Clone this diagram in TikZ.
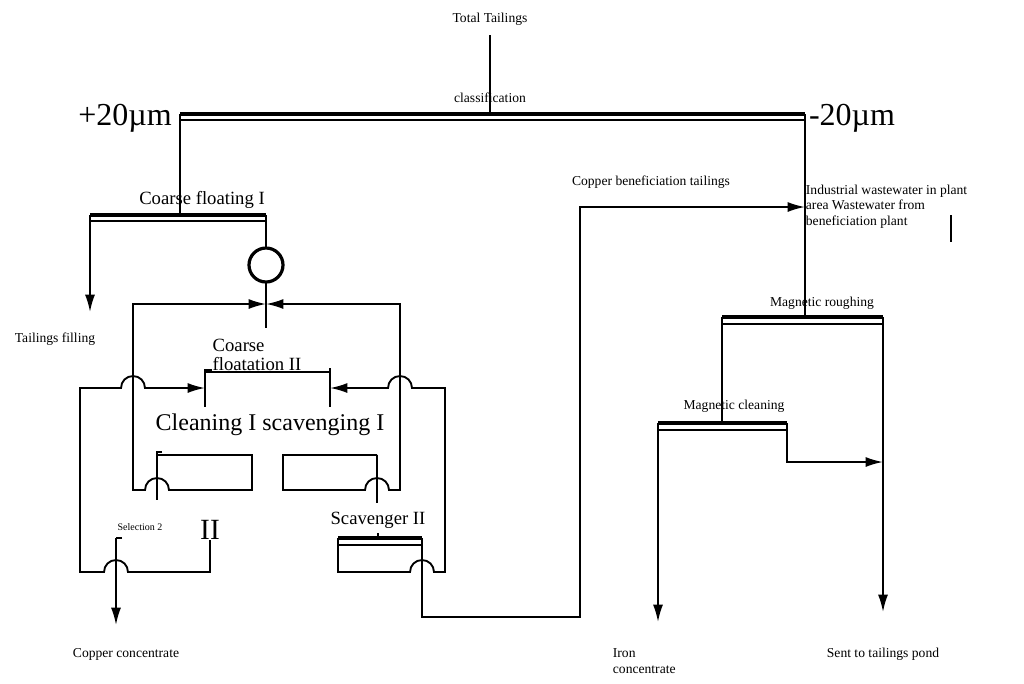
\documentclass[tikz,border=0pt]{standalone}
\usepackage{fontspec}
\setmainfont{Liberation Serif}
\usetikzlibrary{arrows.meta}
\begin{document}
\begin{tikzpicture}[x=0.75pt,y=0.75pt,line width=1.4pt,
  arr/.style={-{Latex[length=13pt,width=7.5pt]}},
  thk/.style={line width=2.6pt},
  sml/.style={font=\fontsize{10.2}{11.5}\selectfont,inner sep=0pt},
  med/.style={font=\fontsize{14}{14.5}\selectfont,inner sep=0pt},
  big/.style={font=\fontsize{24}{25}\selectfont,inner sep=0pt}]
\useasboundingbox (0,0) rectangle (1024,-683);
% texts
\node[sml] (tt) at (490,-19) {Total Tailings};
\node[sml] (cls) at (490,-98) {classification};
\node[big] (p20) at (125,-118) {+20µm};
\node[big] (m20) at (852,-118) {-20µm};
\node[med] (cf1) at (202,-200) {Coarse floating I};
\node[sml] (tf) at (55,-339) {Tailings filling};
\node[med,align=left] (cf2) at (257,-355) {Coarse\\floatation II};
\node[font=\fontsize{18}{19}\selectfont,inner sep=0pt] (clsc) at (270,-425) {Cleaning I scavenging I};
\node[font=\fontsize{7.5}{8}\selectfont,inner sep=0pt] (sel) at (140,-527) {Selection 2};
\node[font=\fontsize{22}{23}\selectfont,inner sep=0pt] (ii) at (210,-530) {II};
\node[med] (sc2) at (378,-520) {Scavenger II};
\node[sml] (cc) at (126,-654) {Copper concentrate};
\node[sml] (cbt) at (651,-182) {Copper beneficiation tailings};
\node[sml,align=left,anchor=north west] (iw) at (805,-184) {Industrial wastewater in plant\\area Wastewater from\\beneficiation plant};
\node[sml] (mr) at (822,-303) {Magnetic roughing};
\node[sml] (mc) at (734,-406) {Magnetic cleaning};
\node[sml,align=left,anchor=north west] (ic) at (612,-648) {Iron\\concentrate};
\node[sml] (stp) at (883,-654) {Sent to tailings pond};
\draw[line width=1.5pt] (951,-215) -- (951,-242);
% classification
\draw (490,-35) -- (490,-114);
\draw[thk] (180,-114) -- (805,-114);
\draw (180,-120) -- (805,-120);
\draw (180,-114) -- (180,-215);
\draw (805,-114) -- (805,-317);
% coarse floating I
\draw[thk] (90,-215) -- (266,-215);
\draw (90,-221) -- (266,-221);
\draw[arr] (90,-215) -- (90,-312);
\draw (266,-215) -- (266,-248);
\draw[line width=2.4pt] (266,-265) circle[radius=17];
\draw (266,-282) -- (266,-328);
% coarse floatation II
\draw (212,-370) -- (205,-370) -- (205,-407);
\draw (205,-372) -- (330,-372);
\draw (330,-368) -- (330,-407);
% cleaning I box
\draw[arr] (157,-455) -- (252,-455) -- (252,-490) -- (169,-490) arc(0:180:12) -- (133,-490) -- (133,-304) -- (266,-304);
\draw (162,-452) -- (157,-452) -- (157,-500);
% scavenging I box
\draw[arr] (377,-455) -- (283,-455) -- (283,-490) -- (365,-490) arc(180:0:12) -- (400,-490) -- (400,-304) -- (266,-304);
\draw (377,-455) -- (377,-503);
% selection 2
\draw[arr] (210,-540) -- (210,-572) -- (128,-572) arc(0:180:12) -- (80,-572) -- (80,-388) -- (121,-388) arc(180:0:12) -- (205,-388);
\draw (122,-538) -- (116,-538);
\draw[arr] (116,-538) -- (116,-625);
% scavenger II
\draw (378,-533) -- (378,-538);
\draw[thk] (338,-538) -- (422,-538);
\draw (338,-545) -- (422,-545);
\draw[arr] (338,-538) -- (338,-572) -- (410,-572) arc(180:0:12) -- (445,-572) -- (445,-388) -- (412,-388) arc(0:180:12) -- (330,-388);
\draw[arr] (422,-538) -- (422,-617) -- (580,-617) -- (580,-207) -- (805,-207);
% magnetic
\draw[thk] (722,-317) -- (883,-317);
\draw (722,-324) -- (883,-324);
\draw (722,-317) -- (722,-423);
\draw[arr] (883,-317) -- (883,-612);
\draw[thk] (658,-423) -- (787,-423);
\draw (658,-430) -- (787,-430);
\draw[arr] (658,-423) -- (658,-622);
\draw[arr] (787,-423) -- (787,-462) -- (883,-462);
\end{tikzpicture}
\end{document}
